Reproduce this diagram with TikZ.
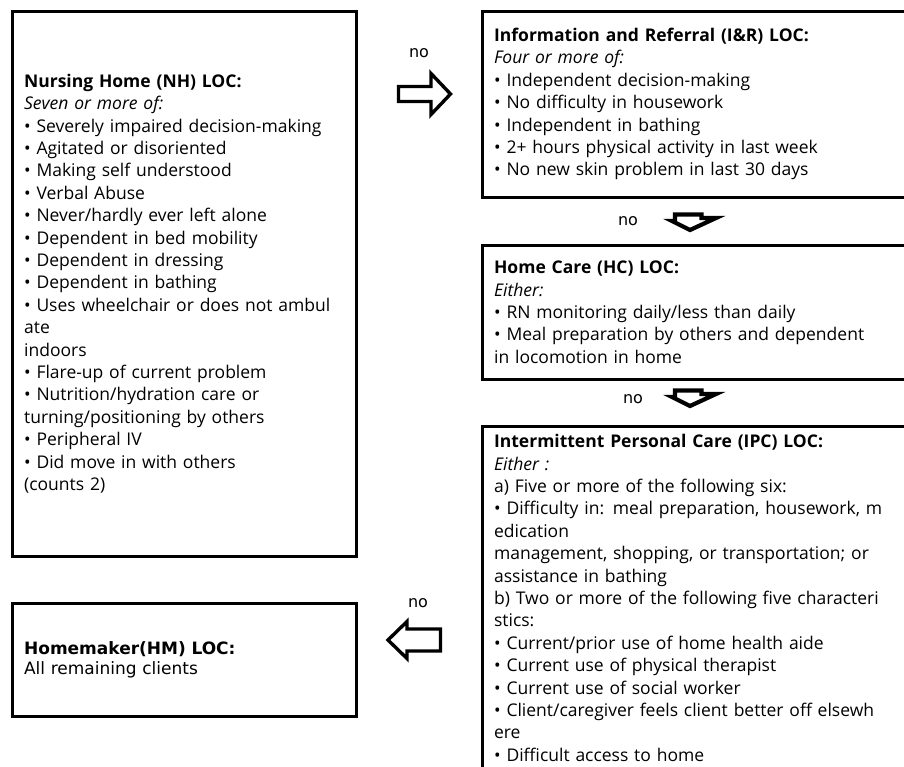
\documentclass[tikz,border=0pt]{standalone}
\usepackage{fontspec}
\setmainfont{Open Sans}
\newfontfamily\dejavu{DejaVu Sans}
\usetikzlibrary{positioning}

\tikzstyle{loc} = [rectangle, draw, line width=3.2pt, align=left,
  inner xsep=12pt, inner ysep=0pt, font=\fontsize{17.5}{22.4}\selectfont]
\tikzstyle{leftloc} = [loc, text width=320pt]
\tikzstyle{rightloc} = [loc, text width=460pt]
\tikzstyle{nolabel} = [font=\dejavu\fontsize{16}{16}\selectfont]
\tikzstyle{blockarrow} = [draw, line width=3.4pt, line join=miter, fill=white]
\tikzstyle{downarrow} = [blockarrow, line width=4.2pt]

\begin{document}
\begin{tikzpicture}[x=1pt, y=-1pt]
      \clip (0,0) rectangle (904,766);

      % left column
      \node[leftloc, anchor=north west, minimum height=545pt] (nh) at (10.5,9.5) {%
        \textbf{Nursing Home (NH) LOC:}\\
        \textit{Seven or more of:}\\
        • Severely impaired decision-making\\
        • Agitated or disoriented\\
        • Making self understood\\
        • Verbal Abuse\\
        • Never/hardly ever left alone\\
        • Dependent in bed mobility\\
        • Dependent in dressing\\
        • Dependent in bathing\\
        • Uses wheelchair or does not ambul\\
        ate\\
        indoors\\
        • Flare-up of current problem\\
        • Nutrition/hydration care or\\
        turning/positioning by others\\
        • Peripheral IV\\
        • Did move in with others\\
        (counts 2)};
      \node[leftloc, minimum height=113pt, below=44pt of nh,
            font=\dejavu\fontsize{17}{20}\selectfont] (hm) {%
        \textbf{Homemaker(HM) LOC:}\\
        All remaining clients};

      % right column
      \node[rightloc, anchor=north west, minimum height=186pt] (ir) at (480.5,9.5) {%
        \textbf{Information and Referral (I\&R) LOC:}\\
        \textit{Four or more of:}\\
        • Independent decision-making\\
        • No difficulty in housework\\
        • Independent in bathing\\
        • 2+ hours physical activity in last week\\
        • No new skin problem in last 30 days};
      \node[rightloc, minimum height=134pt, below=45pt of ir] (hc) {%
        \textbf{Home Care (HC) LOC:}\\
        \textit{Either:}\\
        • RN monitoring daily/less than daily\\
        • Meal preparation by others and dependent\\
        in locomotion in home};
      \node[rightloc, minimum height=343pt, below=44pt of hc] (ipc) {%
        \textbf{Intermittent Personal Care (IPC) LOC:}\\
        \textit{Either :}\\
        a) Five or more of the following six:\\
        • Difficulty in: meal preparation, housework, m\\
        edication\\
        management, shopping, or transportation; or\\
        assistance in bathing\\
        b) Two or more of the following five characteri\\
        stics:\\
        • Current/prior use of home health aide\\
        • Current use of physical therapist\\
        • Current use of social worker\\
        • Client/caregiver feels client better off elsewh\\
        ere\\
        • Difficult access to home};

      % block arrows
      \coordinate (toir) at (424,94);
      \coordinate (tohc) at (692,222);
      \coordinate (toipc) at (692,398);
      \coordinate (tohm) at (413,640);
      \draw[blockarrow, shift={(toir)}] (-25.5,-7.5) -- (7,-7.5) -- (7,-20.5)
        -- (26.5,0) -- (7,20.5) -- (7,7.5) -- (-25.5,7.5) -- cycle;
      \draw[downarrow, shift={(tohc)}] (-17,-7.5) -- (9.5,-7.5) -- (9.5,-4)
        -- (24,-4) -- (-2,8) -- (-20,-1) -- (-17,-1) -- cycle;
      \draw[downarrow, shift={(toipc)}] (-17,-7.5) -- (9.5,-7.5) -- (9.5,-4)
        -- (24,-4) -- (-2,8) -- (-20,-1) -- (-17,-1) -- cycle;
      \draw[blockarrow, shift={(tohm)}] (27.5,-11) -- (-6,-11) -- (-6,-18.5)
        -- (-25,0) -- (-6,18.5) -- (-6,11) -- (27.5,11) -- cycle;

      \node[nolabel] (no1) at (419,53) {no};
      \node[nolabel] (no2) at (628,221) {no};
      \node[nolabel] (no3) at (633,399) {no};
      \node[nolabel] (no4) at (418,603) {no};
    \end{tikzpicture}
\end{document}
